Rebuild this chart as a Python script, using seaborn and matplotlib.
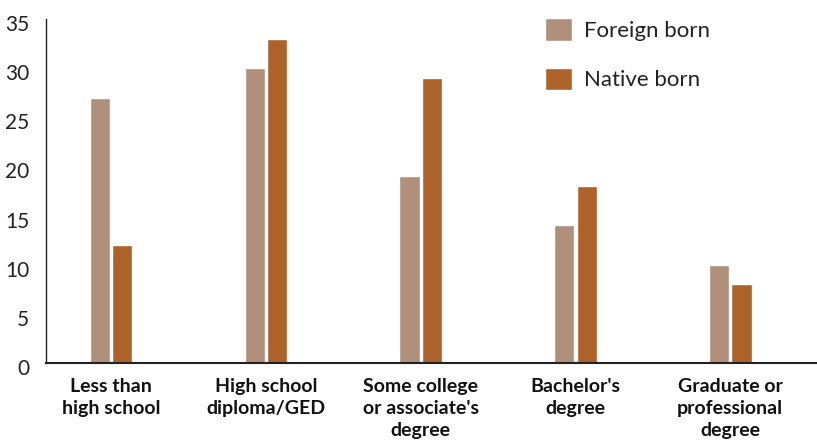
import pandas as pd
import matplotlib.pyplot as plt
import matplotlib.transforms as mtransforms
import seaborn as sns

# education levels (x axis)
levels = ["Less than\nhigh school", "High school\ndiploma/GED", "Some college\nor associate's\ndegree",
          "Bachelor's\ndegree", "Graduate or\nprofessional\ndegree"]
foreign_born = [27, 30, 19, 14, 10]
native_born = [12, 33, 29, 18, 8]
groups = ["Foreign born", "Native born"]
colors = ["#B0907A", "#AD6229"]

df = pd.DataFrame({
    "level": levels * 2,
    "value": foreign_born + native_born,
    "group": [groups[0]] * len(levels) + [groups[1]] * len(levels),
})

sns.set_style("white")
plt.rcParams["font.family"] = ["Lato", "DejaVu Sans"]

fig = plt.figure(figsize=(8.17, 4.4), dpi=100)
ax = fig.add_axes([46 / 817, 1 - 363 / 440, 1 - 46 / 817, (363 - 19) / 440])

sns.barplot(data=df, x="level", y="value", hue="group", palette=colors,
            width=0.29, gap=0.1, saturation=1, ax=ax)

ax.set_ylim(0, 35)
ax.set_xlim(-0.42, 4.56)
ax.set_yticks(range(0, 36, 5))
ax.set_xlabel("")
ax.set_ylabel("")
ax.tick_params(axis="y", length=0, pad=12, labelsize=15, labelcolor="#222222")
ax.tick_params(axis="x", length=0, pad=11, labelsize=14, labelcolor="#111111")
for lab in ax.get_xticklabels():
    lab.set_fontweight("bold")
    lab.set_linespacing(1.35)

# y labels sit a little below their tick in the original
shift = mtransforms.ScaledTranslation(0, -4 / 100, fig.dpi_scale_trans)
for lab in ax.get_yticklabels():
    lab.set_transform(lab.get_transform() + shift)

sns.despine(ax=ax, top=True, right=True)
ax.spines["left"].set_color("#222222")
ax.spines["left"].set_linewidth(1.0)
ax.spines["bottom"].set_color("#222222")
ax.spines["bottom"].set_linewidth(1.5)

leg = ax.legend(loc="upper left", bbox_to_anchor=(545 / 817, 1 - 18 / 440),
                bbox_transform=fig.transFigure, frameon=False, fontsize=16,
                handlelength=1.2, handleheight=1.2, handletextpad=0.55,
                labelspacing=1.2, borderpad=0, borderaxespad=0)
for t in leg.get_texts():
    t.set_color("#222222")

fig.savefig("out.png", dpi=100)
